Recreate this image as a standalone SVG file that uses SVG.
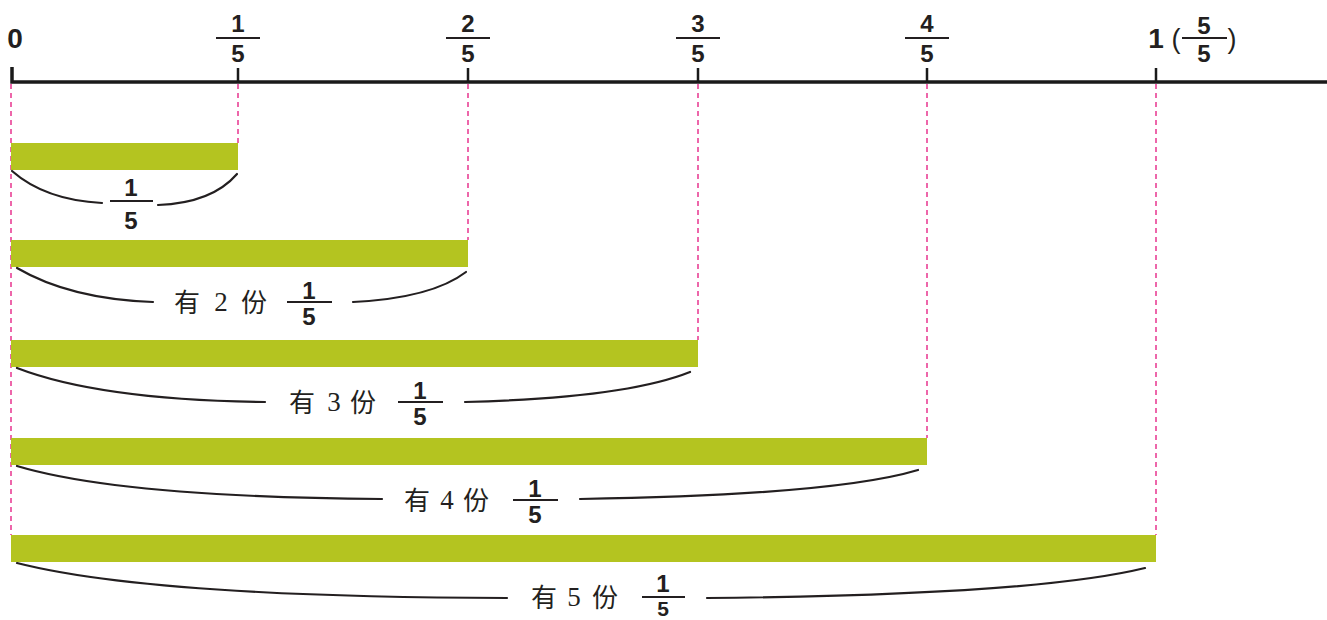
<svg xmlns="http://www.w3.org/2000/svg" width="1327" height="620" viewBox="0 0 1327 620">
<style>
.num{font-family:"Liberation Sans Narrow","Liberation Sans",Arial,sans-serif;font-size:24px;font-weight:bold;fill:#231f20;text-anchor:middle}
.sm{font-size:21px}
.big{font-family:"Liberation Sans Narrow","Liberation Sans",Arial,sans-serif;font-size:28px;font-weight:bold;fill:#231f20;text-anchor:middle}
.par{font-family:"Liberation Sans",Arial,sans-serif;font-size:27px;fill:#231f20;text-anchor:middle}
.cjk{font-family:"Noto Sans CJK SC",sans-serif;font-size:26px;fill:#231f20;text-anchor:middle}
.dig{font-family:"Liberation Serif","Times New Roman",serif;font-size:27px;fill:#231f20;text-anchor:middle}
.fb{stroke:#231f20;stroke-width:2}
.axis{stroke:#1a1a1a;stroke-width:3.5;fill:none}
.tick{stroke:#1a1a1a;stroke-width:2.5}
.guide{stroke:#e8358e;stroke-width:1.5;stroke-dasharray:5 4;fill:none}
.bar{fill:#b4c420}
.brace{stroke:#231f20;stroke-width:2.2;fill:none;stroke-linecap:round}
</style>
<rect width="1327" height="620" fill="#ffffff"/>
<g id="guides">
<line class="guide" x1="11" y1="84" x2="11" y2="535"/>
<line class="guide" x1="238" y1="84" x2="238" y2="143"/>
<line class="guide" x1="468" y1="84" x2="468" y2="240"/>
<line class="guide" x1="698" y1="84" x2="698" y2="340"/>
<line class="guide" x1="927" y1="84" x2="927" y2="438"/>
<line class="guide" x1="1156" y1="84" x2="1156" y2="535"/>
</g>
<g id="axis">
<path class="axis" d="M12 67 V82 H1327"/>
<line class="tick" x1="238" y1="68" x2="238" y2="82"/>
<line class="tick" x1="468" y1="68" x2="468" y2="82"/>
<line class="tick" x1="698" y1="68" x2="698" y2="82"/>
<line class="tick" x1="927" y1="68" x2="927" y2="82"/>
<line class="tick" x1="1156" y1="68" x2="1156" y2="82"/>
<text class="big" x="15" y="48">0</text>
<text class="num" x="238" y="32">1</text><line class="fb" x1="216" y1="38" x2="260" y2="38"/><text class="num" x="238" y="62">5</text>
<text class="num" x="468" y="32">2</text><line class="fb" x1="446" y1="38" x2="490" y2="38"/><text class="num" x="468" y="62">5</text>
<text class="num" x="698" y="32">3</text><line class="fb" x1="676" y1="38" x2="720" y2="38"/><text class="num" x="698" y="62">5</text>
<text class="num" x="927" y="32">4</text><line class="fb" x1="905" y1="38" x2="949" y2="38"/><text class="num" x="927" y="62">5</text>
<text class="big" x="1156" y="48">1</text>
<text class="par" x="1176" y="48">(</text>
<text class="num" x="1204" y="34">5</text><line class="fb" x1="1182" y1="38" x2="1227" y2="38"/><text class="num" x="1204" y="62">5</text>
<text class="par" x="1232" y="48">)</text>
</g>
<g id="bar1">
<rect class="bar" x="11" y="143" width="227" height="27"/>
<path class="brace" d="M12 171 Q45 200 102 203"/>
<path class="brace" d="M158 205 Q212 203 237 174"/>
<text class="num" x="131" y="196">1</text><line class="fb" x1="110" y1="201" x2="153" y2="201"/><text class="num" x="131" y="229">5</text>
</g>
<g id="bar2">
<rect class="bar" x="11" y="240" width="457" height="27"/>
<path class="brace" d="M17 268 Q70 299 153 302"/>
<path class="brace" d="M353 302 Q432 298 466 272"/>
<text class="cjk" x="187" y="312">有</text><text class="dig" x="221" y="311">2</text><text class="cjk" x="254" y="312">份</text>
<text class="num" x="309" y="299">1</text><line class="fb" x1="287" y1="302" x2="332" y2="302"/><text class="num" x="309" y="325">5</text>
</g>
<g id="bar3">
<rect class="bar" x="11" y="340" width="687" height="27"/>
<path class="brace" d="M17 368 Q100 400 265 402"/>
<path class="brace" d="M465 402 Q625 398 690 372"/>
<text class="cjk" x="302" y="412">有</text><text class="dig" x="334" y="411">3</text><text class="cjk" x="363" y="412">份</text>
<text class="num" x="420" y="399">1</text><line class="fb" x1="398" y1="402" x2="443" y2="402"/><text class="num" x="420" y="425">5</text>
</g>
<g id="bar4">
<rect class="bar" x="11" y="438" width="916" height="27"/>
<path class="brace" d="M17 466 Q120 497 382 499"/>
<path class="brace" d="M580 499 Q835 495 918 470"/>
<text class="cjk" x="417" y="510">有</text><text class="dig" x="447" y="509">4</text><text class="cjk" x="476" y="510">份</text>
<text class="num" x="535" y="497">1</text><line class="fb" x1="513" y1="500" x2="558" y2="500"/><text class="num" x="535" y="523">5</text>
</g>
<g id="bar5">
<rect class="bar" x="11" y="535" width="1145" height="27"/>
<path class="brace" d="M17 563 Q150 597 507 598"/>
<path class="brace" d="M707 598 Q1035 595 1145 568"/>
<text class="cjk" x="544" y="607">有</text><text class="dig" x="574" y="606">5</text><text class="cjk" x="605" y="607">份</text>
<text class="num" x="663" y="592">1</text><line class="fb" x1="642" y1="597" x2="685" y2="597"/><text class="num sm" x="663" y="616">5</text>
</g>
</svg>
